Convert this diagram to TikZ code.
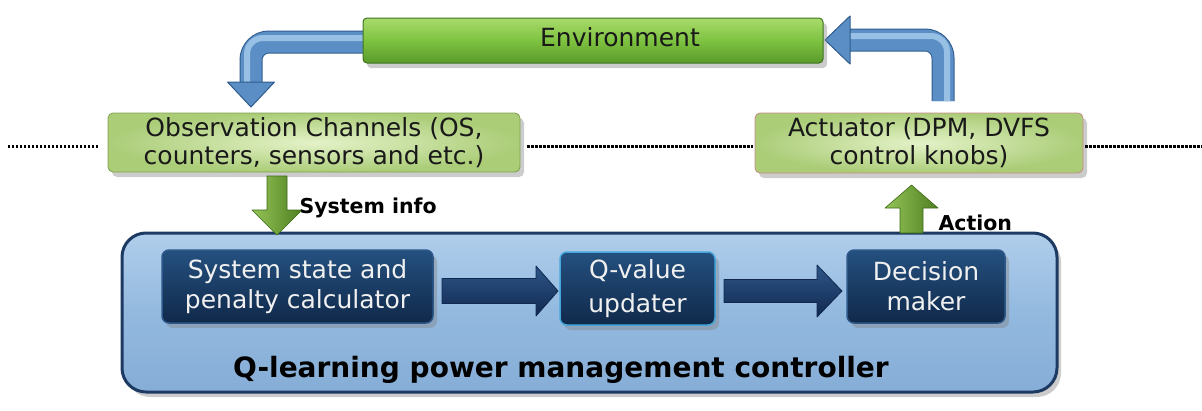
\documentclass[tikz,border=0pt]{standalone}
\usepackage{fontspec}
\setmainfont{DejaVu Sans}
\usetikzlibrary{shadows}
\definecolor{envtop}{HTML}{A9DB6B}
\definecolor{envmid}{HTML}{7EC241}
\definecolor{envbot}{HTML}{5A9A2A}
\definecolor{envline}{HTML}{3E7420}
\definecolor{paleIn}{HTML}{E4F2C8}
\definecolor{paleOut}{HTML}{ABCD78}
\definecolor{paleLine}{HTML}{7F9F4E}
\definecolor{actLine}{HTML}{C48A84}
\definecolor{arrBlue}{HTML}{5B8EC4}
\definecolor{arrBlueD}{HTML}{2E5C8E}
\definecolor{arrBlueL}{HTML}{A8CDEE}
\definecolor{ctrlTop}{HTML}{B0CEEB}
\definecolor{ctrlMid}{HTML}{93B9DF}
\definecolor{ctrlBot}{HTML}{86ADD6}
\definecolor{ctrlLine}{HTML}{1D3A62}
\definecolor{navyTop}{HTML}{24507F}
\definecolor{navyBot}{HTML}{10294A}
\definecolor{navyLine}{HTML}{2D5889}
\definecolor{qLine}{HTML}{45A6DC}
\definecolor{blkArr}{HTML}{102850}
\definecolor{blkArrL}{HTML}{2E5688}
\definecolor{grArr}{HTML}{4F7F22}
\definecolor{grArrD}{HTML}{3D6A18}
\definecolor{grArrL}{HTML}{94C455}
\newcommand{\myvarrow}[7]{\path[#7] ({#1-#4},#2) -- ({#1-#4},{#3-(#6)}) -- ({#1-#5},{#3-(#6)}) -- (#1,#3) -- ({#1+#5},{#3-(#6)}) -- ({#1+#4},{#3-(#6)}) -- ({#1+#4},#2) -- cycle;}
\newcommand{\myharrow}[7]{\path[#7] (#1,{#3-#4}) -- ({#2-#6},{#3-#4}) -- ({#2-#6},{#3-#5}) -- (#2,#3) -- ({#2-#6},{#3+#5}) -- ({#2-#6},{#3+#4}) -- (#1,{#3+#4}) -- cycle;}
\begin{document}
\begin{tikzpicture}[x=1pt,y=-1pt,
  shadeA/.style={drop shadow={opacity=0.4,shadow xshift=4pt,shadow yshift=-5pt}},
  envbox/.style={rectangle, rounded corners=4pt, draw=envline, line width=1pt,
    top color=envtop, bottom color=envbot, middle color=envmid, shadeA},
  palebox/.style={rectangle, rounded corners=5pt, draw=paleLine, line width=0.8pt,
    inner color=paleIn, outer color=paleOut, shadeA, align=center, text=black!90,
    font=\fontsize{25}{28}\selectfont},
  ctrlbox/.style={rectangle, rounded corners=24pt, draw=ctrlLine, line width=3pt,
    top color=ctrlTop, bottom color=ctrlBot, middle color=ctrlMid, shadeA},
  navybox/.style={rectangle, rounded corners=7pt, draw=navyLine, line width=1.5pt,
    top color=navyTop, bottom color=navyBot, text=white!94!black, align=center,
    font=\fontsize{25}{30}\selectfont, shadeA},
  dotline/.style={line width=3pt, dash pattern=on 2.4pt off 1.6pt, black},
  bshaftO/.style={draw=arrBlueD, line width=23pt, rounded corners=18pt},
  bshaft/.style={draw=arrBlue, line width=21pt, rounded corners=18pt},
  bshaftH/.style={draw=arrBlueL, line width=6pt, rounded corners=16pt, opacity=0.8},
  bhead/.style={fill=arrBlue, draw=arrBlueD, line width=1pt, line join=round},
  grarrow/.style={left color=grArrL, right color=grArr, draw=grArrD, line width=0.6pt, line join=round},
  blkarrow/.style={top color=blkArrL, bottom color=blkArr, draw=blkArr, line width=0.8pt, line join=round},
  lbl/.style={font=\bfseries\fontsize{20.5}{24}\selectfont, text=black, anchor=base west}
]
\useasboundingbox (0,0) rectangle (1202,410);

\coordinate (dl0) at (8,146);
\coordinate (dl9) at (1202,146);

% bent arrows (behind the environment box)
\coordinate (lb0) at (363,42);
\coordinate (lb1) at (251,42);
\coordinate (lb2) at (251,83);
\draw[bshaftO] (lb0) -- (lb1) -- (lb2);
\draw[bshaft] (lb0) -- (lb1) -- (lb2);
\draw[bshaftH] (363,38) -- (247,38) -- (247,82);
\path[bhead] (227.5,82) -- (251,107) -- (274.5,82) -- cycle;

\coordinate (rb0) at (943,101);
\coordinate (rb1) at (943,40);
\coordinate (rb2) at (849,40);
\draw[bshaftO] (rb0) -- (rb1) -- (rb2);
\draw[bshaft] (rb0) -- (rb1) -- (rb2);
\draw[bshaftH] (947,101) -- (947,36) -- (850,36);
\path[bhead] (850,16) -- (825,40) -- (850,64) -- cycle;

% top green boxes
\node[envbox, minimum width=460pt, minimum height=45pt] (env) at (593,40.5) {};
\node[font=\fontsize{25}{28}\selectfont, text=black!90, anchor=base] (envtext) at (620,46) {Environment};

\node[palebox, minimum width=412pt, minimum height=59pt] (obs) at (314,142.5)
  {Observation Channels (OS,\\counters, sensors and etc.)};
\node[palebox, draw=actLine, minimum width=328pt, minimum height=60pt] (act) at (919,143)
  {Actuator (DPM, DVFS\\control knobs)};

% dotted lines
\draw[dotline, shorten >=8pt] (dl0) -- (obs.west |- dl0);
\draw[dotline, shorten <=7pt, shorten >=2pt] (obs.east |- dl0) -- (act.west |- dl0);
\draw[dotline, shorten <=2pt] (act.east |- dl0) -- (dl9);

% controller
\node[ctrlbox, minimum width=935pt, minimum height=159pt] (ctrl) at (589.5,312.5) {};
\node[navybox, minimum width=271pt, minimum height=73pt] (calc) at (297.5,286.5)
  {System state and\\penalty calculator};
\node[navybox, draw=qLine, minimum width=155pt, minimum height=73pt,
  font=\fontsize{25}{34}\selectfont] (qval) at (637.5,288.5) {Q-value\\updater};
\node[navybox, minimum width=158pt, minimum height=73pt] (dec) at (926,286.5)
  {Decision\\maker};

% block arrows between inner boxes
\myharrow{442}{558}{291}{12.5}{25}{22}{blkarrow}
\myharrow{724}{842}{291}{11.5}{26}{25}{blkarrow}

% green arrows
\myvarrow{277}{176}{235}{10}{25}{25}{grarrow}
\myvarrow{911.5}{233}{185}{11.5}{26.5}{-23}{grarrow}

% labels
\node[lbl] (sysinfo) at (296,213) {System info};
\node[lbl] (action) at (935,230) {Action};
\node[font=\bfseries\fontsize{28}{32}\selectfont, text=black, anchor=base] (title) at (561,377)
  {Q-learning power management controller};
\end{tikzpicture}
\end{document}
